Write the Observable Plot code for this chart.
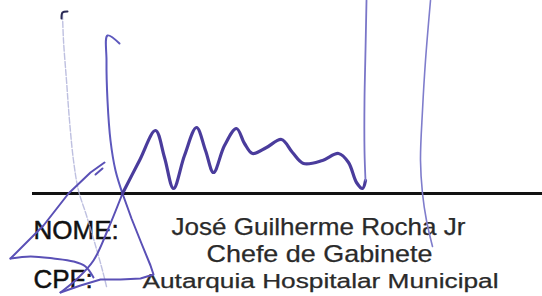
<!DOCTYPE html>
<html>
<head>
<meta charset="utf-8">
<script src="https://cdn.jsdelivr.net/npm/d3@7"></script>
<script src="https://cdn.jsdelivr.net/npm/@observablehq/plot@0.6"></script>
<style>
  html, body { margin: 0; padding: 0; background: #fff; }
  #chart svg { display: block; background: #fff; }
</style>
</head>
<body>
<div id="chart"></div>
<script>
// ---- data (points of the scanned signature, in picture units) ----
const signatureLineY = [193];
const fieldLabels = ["NOME:", "CPF:"];
const nameLines = ["José Guilherme Rocha Jr", "Chefe de Gabinete", "Autarquia Hospitalar Municipal"];

const strokeFaint = [[62,13],[63,40],[66,80],[69,120],[73,160],[78,190],[86,215],[95,245],[102,270],[106,286]];
const strokeTick = [[61,18],[62,12],[67,11]];
const strokeStem = [[119,43],[107,35],[106,60],[107,100],[110,140],[115,170],[122,193]];
const strokeLoopRight = [[122,193],[131,218],[141,243],[150,265],[153,274],[140,278],[120,279],[100,279],[80,285],[60,292]];
const strokeLoopBack = [[60,292],[77,278],[93,260],[107,230],[122,193]];
const strokeWave = [[122,193],[139,160],[155,130],[164,157],[173,188],[184,155],[196,127],[205,150],[213,172],[224,145],[236,128],[244,143],[252,153],[266,147],[281,139],[292,152],[303,163],[322,160],[338,153],[348,162],[356,182],[362,188],[365,180]];
const strokeRise = [[365,180],[364,150],[364,100],[365,50],[366,0]];
const strokeArrowTick = [[95,174],[102,168]];
const strokeDiagonal = [[104,162],[90,172],[68,193],[43,225],[10,258]];
const strokeBase = [[10,258],[30,256],[53,258],[73,261],[85,266],[93,277]];
const strokeTall = [[430,0],[425,60],[422,110],[420,160],[422,193],[426,220],[432,246]];

// ---- layout ----
const W = 542, H = 296;
const labelX = 33, labelY = [238, 287];
const nameX = [171, 206, 142], nameY = [234, 261, 287];
const nameWidths = {"José Guilherme Rocha Jr": 294, "Chefe de Gabinete": 226, "Autarquia Hospitalar Municipal": 356};

const toRows = (pts) => pts.map(([x, y]) => ({x, y}));
const line = (pts, stroke, strokeWidth, opts = {}) =>
  Plot.line(toRows(pts), {x: "x", y: "y", stroke, strokeWidth, curve: "catmull-rom", strokeLinecap: "round", strokeLinejoin: "round", ...opts});

const chart = Plot.plot({
  width: W, height: H, margin: 0,
  x: {domain: [0, W], range: [0, W], axis: null},
  y: {domain: [0, H], range: [0, H], axis: null},
  style: {background: "#fff", fontFamily: "'Liberation Sans', Arial, sans-serif"},
  marks: [
    Plot.ruleY(signatureLineY, {x1: 32, x2: W, stroke: "#111", strokeWidth: 3}),
    Plot.text(fieldLabels, {x: () => labelX, y: (d, i) => labelY[i], text: d => d, textAnchor: "start", lineAnchor: "bottom", fontSize: 26, fill: "#111", stroke: "#111", strokeWidth: 0.5}),
    Plot.text(nameLines, {x: (d, i) => nameX[i], y: (d, i) => nameY[i], text: d => d, textAnchor: "start", lineAnchor: "bottom", fontSize: (d, i) => i < 2 ? 24 : 20, fill: "#2a2a2a", stroke: "#2a2a2a", strokeWidth: 0.25}),
    line(strokeFaint, "#aeb0d8", 1.4, {strokeDasharray: "6,2", opacity: 0.8}),
    line(strokeTick, "#2a2a55", 2),
    line(strokeStem, "#5d58bd", 2),
    line(strokeLoopRight, "#5a50b6", 2, {curve: "linear"}),
    line(strokeLoopBack, "#5a50b6", 2),
    line(strokeWave, "#4a3c9c", 3.2),
    line(strokeRise, "#7a76c8", 1.8),
    line(strokeArrowTick, "#5a50b6", 2, {curve: "linear"}),
    line(strokeDiagonal, "#5a50b6", 2, {curve: "linear"}),
    line(strokeBase, "#5a50b6", 2),
    line(strokeTall, "#7f7dcc", 1.6)
  ]
});

d3.select(chart).selectAll("text").each(function () {
  const t = this.textContent;
  if (nameWidths[t]) {
    this.setAttribute("textLength", nameWidths[t]);
    this.setAttribute("lengthAdjust", "spacingAndGlyphs");
  }
});
document.getElementById("chart").appendChild(chart);
</script>
</body>
</html>
